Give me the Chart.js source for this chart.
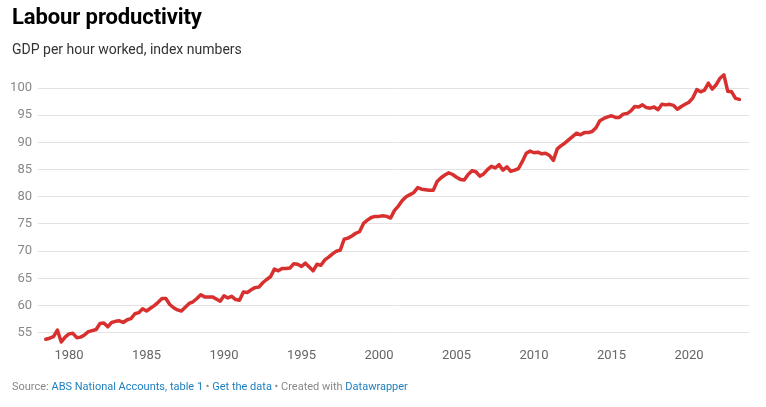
<!DOCTYPE html>
<html>
<head>
<meta charset="utf-8">
<script src="https://cdn.jsdelivr.net/npm/chart.js@4/dist/chart.umd.min.js"></script>
<style>
  html, body { margin: 0; padding: 0; background: #fff; }
  body { width: 766px; height: 407px; position: relative; overflow: hidden; font-family: Roboto, "Noto Sans", sans-serif; }
  #wrap { position: absolute; left: 0; top: 0; width: 766px; height: 407px; }
  .title { position: absolute; left: 12px; top: 4px; font-size: 22px; font-weight: 700; color: #000; letter-spacing: -0.1px; }
  .subtitle { position: absolute; left: 12px; top: 41px; font-size: 14px; color: #333; }
  .footer { position: absolute; left: 12px; top: 380px; font-size: 11px; color: #888; }
  .footer a { color: #1d7fbf; text-decoration: none; }
</style>
</head>
<body>
<div id="wrap"><canvas id="chart" width="766" height="407"></canvas></div>
<div class="title">Labour productivity</div>
<div class="subtitle">GDP per hour worked, index numbers</div>
<div class="footer">Source: <a>ABS National Accounts, table 1</a> • <a>Get the data</a> • Created with <a>Datawrapper</a></div>
<script>
// quarter (decimal year) and index value
const quarters = [
  1978.5, 1978.75, 1979.0, 1979.25, 1979.5, 1979.75,
  1980.0, 1980.25, 1980.5, 1980.75, 1981.0, 1981.25, 1981.5, 1981.75,
  1982.0, 1982.25, 1982.5, 1982.75, 1983.0, 1983.25, 1983.5, 1983.75,
  1984.0, 1984.25, 1984.5, 1984.75, 1985.0, 1985.25, 1985.5, 1985.75,
  1986.0, 1986.25, 1986.5, 1986.75, 1987.0, 1987.25, 1987.5, 1987.75,
  1988.0, 1988.25, 1988.5, 1988.75, 1989.0, 1989.25, 1989.5, 1989.75,
  1990.0, 1990.25, 1990.5, 1990.75, 1991.0, 1991.25, 1991.5, 1991.75,
  1992.0, 1992.25, 1992.5, 1992.75, 1993.0, 1993.25, 1993.5, 1993.75,
  1994.0, 1994.25, 1994.5, 1994.75, 1995.0, 1995.25, 1995.5, 1995.75,
  1996.0, 1996.25, 1996.5, 1996.75, 1997.0, 1997.25, 1997.5, 1997.75,
  1998.0, 1998.25, 1998.5, 1998.75, 1999.0, 1999.25, 1999.5, 1999.75,
  2000.0, 2000.25, 2000.5, 2000.75, 2001.0, 2001.25, 2001.5, 2001.75,
  2002.0, 2002.25, 2002.5, 2002.75, 2003.0, 2003.25, 2003.5, 2003.75,
  2004.0, 2004.25, 2004.5, 2004.75, 2005.0, 2005.25, 2005.5, 2005.75,
  2006.0, 2006.25, 2006.5, 2006.75, 2007.0, 2007.25, 2007.5, 2007.75,
  2008.0, 2008.25, 2008.5, 2008.75, 2009.0, 2009.25, 2009.5, 2009.75,
  2010.0, 2010.25, 2010.5, 2010.75, 2011.0, 2011.25, 2011.5, 2011.75,
  2012.0, 2012.25, 2012.5, 2012.75, 2013.0, 2013.25, 2013.5, 2013.75,
  2014.0, 2014.25, 2014.5, 2014.75, 2015.0, 2015.25, 2015.5, 2015.75,
  2016.0, 2016.25, 2016.5, 2016.75, 2017.0, 2017.25, 2017.5, 2017.75,
  2018.0, 2018.25, 2018.5, 2018.75, 2019.0, 2019.25, 2019.5, 2019.75,
  2020.0, 2020.25, 2020.5, 2020.75, 2021.0, 2021.25, 2021.5, 2021.75,
  2022.0, 2022.25, 2022.5, 2022.75, 2023.0, 2023.25
];
const productivity = [
  53.8, 54.0, 54.3, 55.5, 53.3, 54.2,
  54.8, 54.9, 54.1, 54.2, 54.6, 55.2, 55.4, 55.6,
  56.7, 56.8, 56.1, 56.9, 57.1, 57.2, 56.9, 57.4,
  57.6, 58.5, 58.7, 59.4, 59.0, 59.5, 60.0, 60.6,
  61.3, 61.3, 60.2, 59.6, 59.2, 59.0, 59.7, 60.4,
  60.7, 61.3, 62.0, 61.6, 61.6, 61.6, 61.2, 60.8,
  61.8, 61.4, 61.7, 61.1, 61.0, 62.5, 62.4, 62.9,
  63.3, 63.4, 64.2, 64.8, 65.3, 66.7, 66.4, 66.8,
  66.8, 66.9, 67.7, 67.6, 67.2, 67.8, 67.1, 66.4,
  67.6, 67.4, 68.4, 68.9, 69.5, 70.0, 70.2, 72.2,
  72.4, 72.8, 73.3, 73.6, 75.1, 75.7, 76.2, 76.4,
  76.4, 76.5, 76.4, 76.1, 77.5, 78.3, 79.3, 80.0,
  80.4, 80.8, 81.7, 81.4, 81.3, 81.2, 81.2, 82.8,
  83.5, 84.0, 84.4, 84.1, 83.6, 83.2, 83.1, 84.1,
  84.8, 84.6, 83.8, 84.2, 85.0, 85.6, 85.3, 85.9,
  84.9, 85.5, 84.7, 84.9, 85.2, 86.5, 88.0, 88.4,
  88.1, 88.2, 87.9, 88.0, 87.6, 86.7, 88.8, 89.4,
  89.9, 90.5, 91.1, 91.7, 91.4, 91.8, 91.8, 92.0,
  92.7, 94.0, 94.4, 94.7, 94.9, 94.6, 94.6, 95.2,
  95.3, 95.8, 96.6, 96.5, 96.9, 96.4, 96.3, 96.5,
  96.0, 97.0, 96.9, 97.0, 96.8, 96.1, 96.6, 97.0,
  97.4, 98.2, 99.7, 99.3, 99.6, 100.9, 99.8, 100.6,
  101.8, 102.4, 99.4, 99.3, 98.1, 97.9
];
const xTicks = [1980, 1985, 1990, 1995, 2000, 2005, 2010, 2015, 2020];
const yTicks = [55, 60, 65, 70, 75, 80, 85, 90, 95, 100];

const points = quarters.map((q, i) => ({ x: q, y: productivity[i] }));

new Chart(document.getElementById('chart'), {
  type: 'line',
  data: {
    datasets: [{
      label: 'Labour productivity',
      data: points,
      borderColor: '#d8302f',
      borderWidth: 3.5,
      pointRadius: 0,
      tension: 0,
      borderJoinStyle: 'round',
      borderCapStyle: 'round'
    }]
  },
  options: {
    responsive: false,
    animation: false,
    layout: { padding: { top: 71.7, right: 17, left: 0, bottom: 36.8 } },
    plugins: { legend: { display: false }, tooltip: { enabled: false } },
    scales: {
      x: {
        type: 'linear',
        min: 1978.0,
        max: 2023.87,
        afterBuildTicks: (s) => { s.ticks = xTicks.map(v => ({ value: v })); },
        afterFit: (s) => { s.height = 26; },
        grid: { display: false, drawTicks: false },
        border: { display: false },
        ticks: { color: '#666', font: { family: 'Roboto', size: 13 }, padding: 4, maxRotation: 0, callback: (v) => String(v) }
      },
      y: {
        min: 52.9,
        max: 103,
        afterBuildTicks: (s) => { s.ticks = yTicks.map(v => ({ value: v })); },
        afterFit: (s) => { s.width = 38; },
        grid: { color: '#e2e2e2', drawTicks: false, lineWidth: 1 },
        border: { display: false },
        ticks: { color: '#888', font: { family: 'Roboto', size: 13 }, padding: 6 }
      }
    }
  }
});
</script>
</body>
</html>
